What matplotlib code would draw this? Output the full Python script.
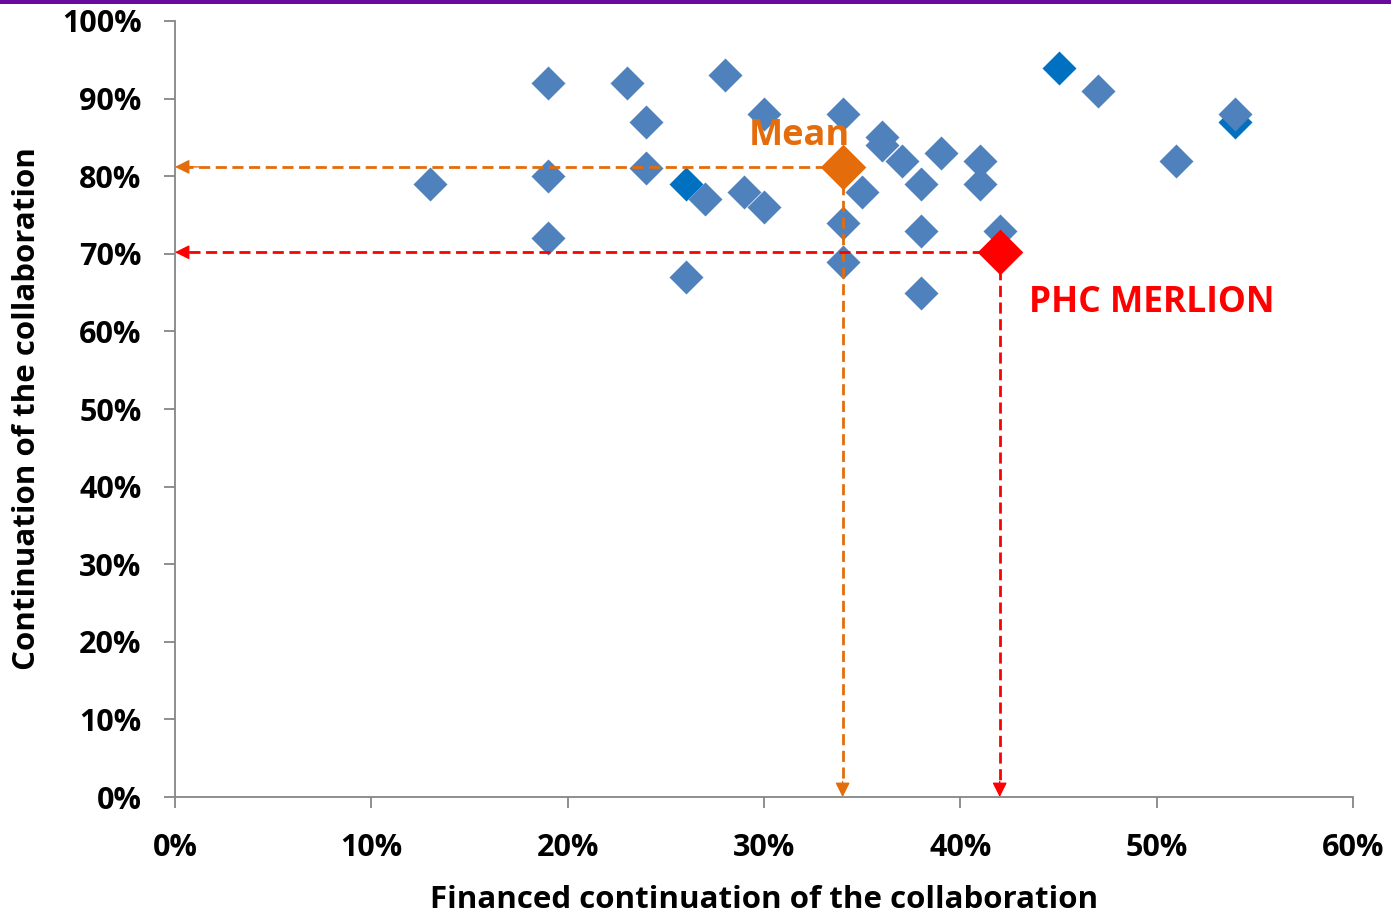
"""Scatter: financed continuation vs continuation of the collaboration."""
import numpy as np
import matplotlib
matplotlib.use("Agg")
import matplotlib.pyplot as plt
from matplotlib.ticker import FuncFormatter

plt.rcParams['font.family'] = ['Open Sans', 'DejaVu Sans']
plt.rcParams['font.weight'] = 'bold'

# --- Data (percent) ---
financed = [13, 19, 19, 19, 23, 24, 24, 26, 27, 28, 29, 30, 30,
            34, 34, 34, 35, 36, 36, 37, 38, 38, 38, 39, 41, 41, 42, 47, 51, 54]
continued = [79, 92, 80, 72, 92, 87, 81, 67, 77, 93, 78, 88, 76,
             88, 74, 69, 78, 85, 84, 82, 79, 73, 65, 83, 82, 79, 73, 91, 82, 88]
# the few darker points
financed_dark = [26, 45, 54]
continued_dark = [79, 94, 87]

mean_pt = (34.0, 81.2)
merlion_pt = (42.0, 70.2)

BLUE = '#4F81BD'
DARK = '#0070C0'
ORANGE = '#E46C0A'
RED = '#FF0000'
GREY = '#868686'

fig = plt.figure(figsize=(13.91, 9.13), dpi=100)
ax = fig.add_axes([0.1258, 0.127, 0.847, 0.850])

# purple band at top
fig.add_artist(plt.Rectangle((0, 0.9955), 1, 0.0045, transform=fig.transFigure,
                             color='#6A0A9C', lw=0))

ax.scatter(financed_dark, continued_dark, marker='D', s=300, color=DARK, lw=0, zorder=3)
ax.scatter(financed, continued, marker='D', s=300, color=BLUE, lw=0, zorder=3)


def guide(pt, color):
    x, y = pt
    dash = dict(color=color, lw=2, dashes=(4, 2), zorder=4)
    ax.plot([x, 0.6], [y, y], **dash)
    ax.plot([x, x], [y, 1.2], **dash)
    head = dict(arrowstyle='-|>', color=color, lw=1, mutation_scale=22,
                shrinkA=0, shrinkB=0)
    ax.annotate('', xy=(0, y), xytext=(1.2, y), arrowprops=head, zorder=5)
    ax.annotate('', xy=(x, 0), xytext=(x, 2.0), arrowprops=head, zorder=5,
                annotation_clip=False)


guide(mean_pt, ORANGE)
guide(merlion_pt, RED)

ax.scatter(*mean_pt, marker='D', s=540, color=ORANGE, lw=0, zorder=6)
ax.scatter(*merlion_pt, marker='D', s=540, color=RED, lw=0, zorder=6)

ax.text(29.2, 85.2, 'Mean', color=ORANGE, fontsize=26, fontweight='bold', ha='left', va='center')
ax.text(43.5, 63.6, 'PHC MERLION', color=RED, fontsize=25.5, fontweight='bold', ha='left', va='center')

ax.set_xlim(0, 60)
ax.set_ylim(0, 100)
ax.set_xticks(np.arange(0, 61, 10))
ax.set_yticks(np.arange(0, 101, 10))
pct = FuncFormatter(lambda v, _: f"{v:.0f}%")
ax.xaxis.set_major_formatter(pct)
ax.yaxis.set_major_formatter(pct)
ax.tick_params(axis='both', length=8, width=1.3, color=GREY, labelsize=22, direction='out')
ax.tick_params(axis='y', pad=16)
ax.tick_params(axis='x', pad=18)

for s in ('top', 'right'):
    ax.spines[s].set_visible(False)
for s in ('left', 'bottom'):
    ax.spines[s].set_color(GREY)
    ax.spines[s].set_linewidth(1.3)

ax.set_xlabel("Financed continuation of the collaboration", fontsize=22.5, fontweight='bold', labelpad=16)
ax.set_ylabel("Continuation of the collaboration", fontsize=22.5, fontweight='bold', labelpad=14)

fig.savefig("out.png", dpi=100)
